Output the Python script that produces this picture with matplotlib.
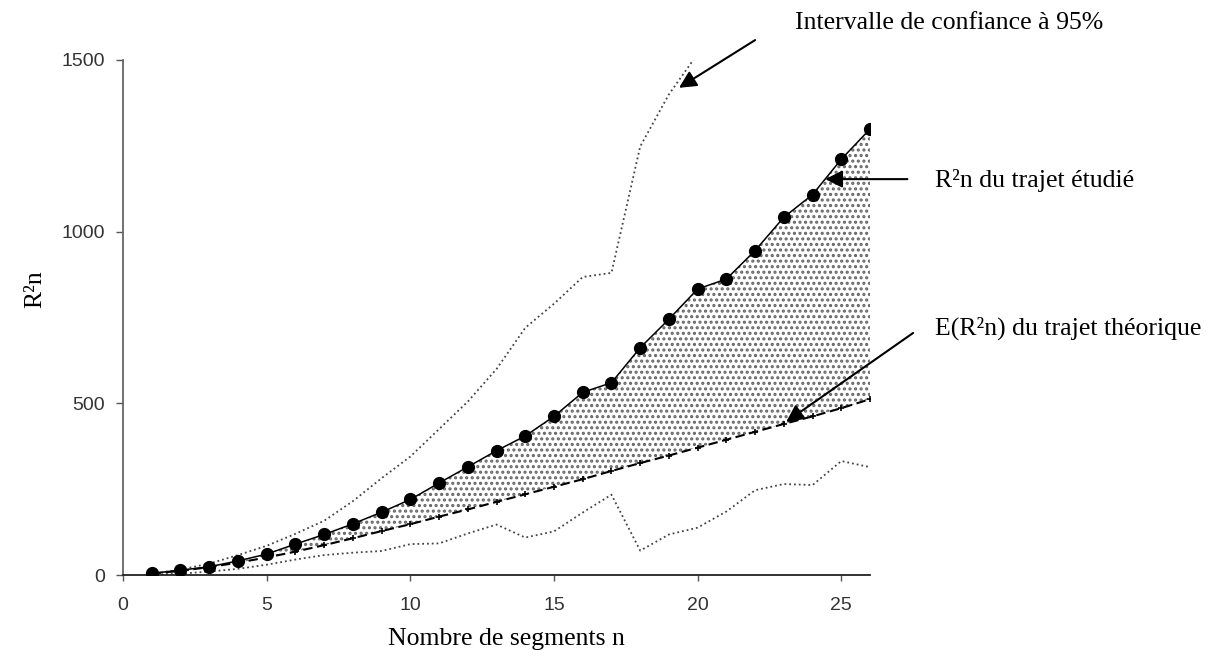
import matplotlib
matplotlib.use("Agg")
import matplotlib.pyplot as plt

plt.rcParams['hatch.color'] = '#666666'
plt.rcParams['hatch.linewidth'] = 1.5

# data
n = list(range(1, 27))
r2n = [5, 14, 24, 41, 61, 90, 118, 149, 183, 220, 268, 315, 362, 405, 462,
       532, 560, 662, 745, 833, 862, 945, 1042, 1108, 1211, 1299]
expected = [4, 12, 23, 36, 51, 68, 87, 107, 128, 148, 170, 191, 213, 235,
            257, 279, 303, 326, 348, 371, 394, 417, 440, 462, 486, 512]
n_upper = list(range(1, 21))
upper = [3, 16, 33, 58, 85, 120, 158, 215, 282, 345, 425, 505, 600, 720,
         790, 868, 880, 1248, 1400, 1518]
lower = [1, 4, 10, 18, 30, 45, 58, 65, 70, 90, 92, 121, 147, 109, 127,
         182, 234, 71, 118, 138, 185, 247, 265, 262, 332, 314]

xticks = [0, 5, 10, 15, 20, 25]
yticks = [0, 500, 1000, 1500]

serif = ['Liberation Serif', 'DejaVu Serif']
sans = ['Liberation Sans', 'DejaVu Sans']

fig = plt.figure(figsize=(12.23, 6.57), dpi=100)
ax = fig.add_axes([0.1006, 0.1248, 0.6108, 0.7839])

# stippled area between observed and theoretical curves
ax.fill_between(n, expected, r2n, facecolor='white', edgecolor='none',
                hatch='...', zorder=1)

ax.plot(n_upper, upper, linestyle=':', color='#444444', lw=1.3, zorder=2)
ax.plot(n, lower, linestyle=':', color='#444444', lw=1.3, zorder=2)
ax.plot(n, expected, color='black', lw=1.5, dashes=(4.5, 2.2),
        marker='+', markersize=5, markeredgewidth=1.2, zorder=3)
ax.plot(n, r2n, color='black', lw=1.1, marker='o', markersize=8.5, zorder=4)

ax.set_xlim(0, 26)
ax.set_ylim(0, 1500)
ax.set_xticks(xticks)
ax.set_yticks(yticks)
for s in ['top', 'right']:
    ax.spines[s].set_visible(False)
ax.spines['left'].set_color('#666666')
ax.spines['left'].set_linewidth(1.3)
ax.spines['bottom'].set_color('#222222')
ax.spines['bottom'].set_linewidth(1.3)
ax.tick_params(axis='y', direction='out', length=5, width=1, color='#555555',
               pad=8, labelsize=14, labelcolor='#333333')
ax.tick_params(axis='x', direction='out', length=4, width=1, color='#555555',
               pad=12, labelsize=14, labelcolor='#333333')
for lab in ax.get_xticklabels() + ax.get_yticklabels():
    lab.set_family(sans)

# annotations
arrow = dict(arrowstyle='-|>', color='black', lw=1.5, mutation_scale=26,
             shrinkA=0, shrinkB=0)
ax.annotate('', xy=(19.35, 1419), xytext=(22.0, 1558), arrowprops=arrow,
            annotation_clip=False)
ax.annotate('', xy=(24.44, 1153), xytext=(27.3, 1153), arrowprops=arrow,
            annotation_clip=False)
ax.annotate('', xy=(23.08, 446), xytext=(27.5, 705), arrowprops=arrow,
            annotation_clip=False)

fig.text(795 / 1223, 1 - 23 / 657, 'Intervalle de confiance à 95%',
         family=serif, fontsize=18.5, va='center', ha='left')
fig.text(935 / 1223, 1 - 181 / 657, 'R²n du trajet étudié',
         family=serif, fontsize=18.5, va='center', ha='left')
fig.text(935 / 1223, 1 - 328 / 657, 'E(R²n) du trajet théorique',
         family=serif, fontsize=18.5, va='center', ha='left')
fig.text(506 / 1223, 1 - 639 / 657, 'Nombre de segments n',
         family=serif, fontsize=18.5, va='center', ha='center')
fig.text(35 / 1223, 1 - 289 / 657, 'R²n', family=serif, fontsize=18.5,
         rotation=90, va='center', ha='center')

fig.savefig('out.png', dpi=100)
